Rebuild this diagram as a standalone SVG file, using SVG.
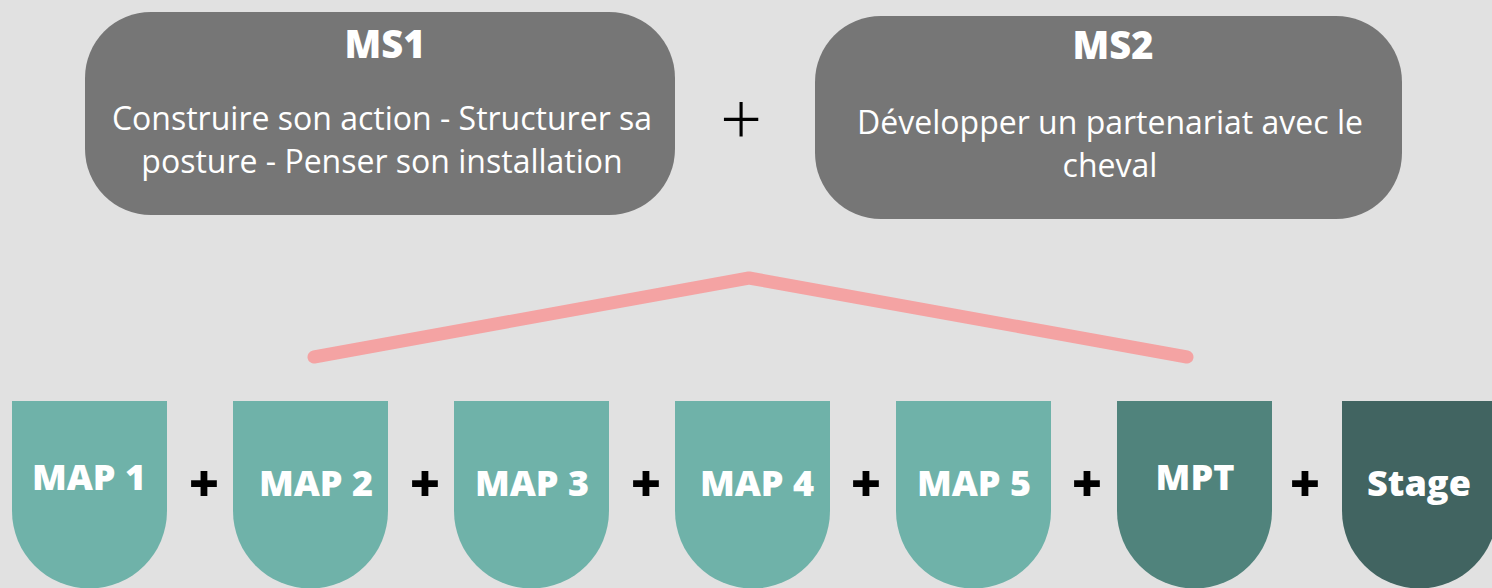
<svg xmlns="http://www.w3.org/2000/svg" width="1492" height="588" viewBox="0 0 1492 588">
<style>
.ms{fill:#767676}
.t{font-family:"Open Sans","Liberation Sans",sans-serif;fill:#ffffff;text-anchor:middle}
.h{font-size:38px;font-weight:800}
.b{font-size:32px;font-weight:400}
.m{font-size:36px;font-weight:800}
.map{fill:#6fb2a9}
.plus{font-family:"Open Sans","Liberation Sans",sans-serif;font-weight:800;font-size:52px;fill:#000;text-anchor:middle}
</style>
<rect width="1492" height="588" fill="#e1e1e1"/>
<g id="connectors">
<polyline points="314,357 749,278 1187,357" fill="none" stroke="#f4a3a3" stroke-width="13" stroke-linecap="round" stroke-linejoin="round"/>
</g>
<g id="ms1">
<rect class="ms" x="85" y="12" width="590" height="203" rx="66" ry="66"/>
<text class="t h" x="385" y="58">MS1</text>
<text class="t b" x="382" y="130">Construire son action - Structurer sa</text>
<text class="t b" x="382" y="173">posture - Penser son installation</text>
</g>
<text x="741" y="146" font-family="'Open Sans','Liberation Sans',sans-serif" font-size="74" font-weight="300" text-anchor="middle" fill="#000">+</text>
<g id="ms2">
<rect class="ms" x="815" y="16" width="587" height="203" rx="66" ry="66"/>
<text class="t h" x="1113" y="59">MS2</text>
<text class="t b" x="1110" y="134">Développer un partenariat avec le</text>
<text class="t b" x="1110" y="177">cheval</text>
</g>
<g id="map1">
<path class="map" d="M12,401 h155 v110 a77.5,77.5 0 0 1 -155,0 z"/>
<text class="t m" x="89" y="490">MAP 1</text>
</g>
<text class="plus" x="204" y="502">+</text>
<g id="map2">
<path class="map" d="M233,401 h155 v110 a77.5,77.5 0 0 1 -155,0 z"/>
<text class="t m" x="316" y="496">MAP 2</text>
</g>
<text class="plus" x="425" y="502">+</text>
<g id="map3">
<path class="map" d="M454,401 h155 v110 a77.5,77.5 0 0 1 -155,0 z"/>
<text class="t m" x="532" y="496">MAP 3</text>
</g>
<text class="plus" x="646" y="502">+</text>
<g id="map4">
<path class="map" d="M675,401 h155 v110 a77.5,77.5 0 0 1 -155,0 z"/>
<text class="t m" x="757" y="496">MAP 4</text>
</g>
<text class="plus" x="866" y="502">+</text>
<g id="map5">
<path class="map" d="M896,401 h155 v110 a77.5,77.5 0 0 1 -155,0 z"/>
<text class="t m" x="974" y="496">MAP 5</text>
</g>
<text class="plus" x="1087" y="502">+</text>
<g id="mpt">
<path d="M1117,401 h155 v110 a77.5,77.5 0 0 1 -155,0 z" fill="#50837c"/>
<text class="t m" x="1195" y="490">MPT</text>
</g>
<text class="plus" x="1305" y="502">+</text>
<g id="stage">
<path d="M1342,401 h155 v110 a77.5,77.5 0 0 1 -155,0 z" fill="#416461"/>
<text class="t m" x="1419" y="496">Stage</text>
</g>
</svg>
